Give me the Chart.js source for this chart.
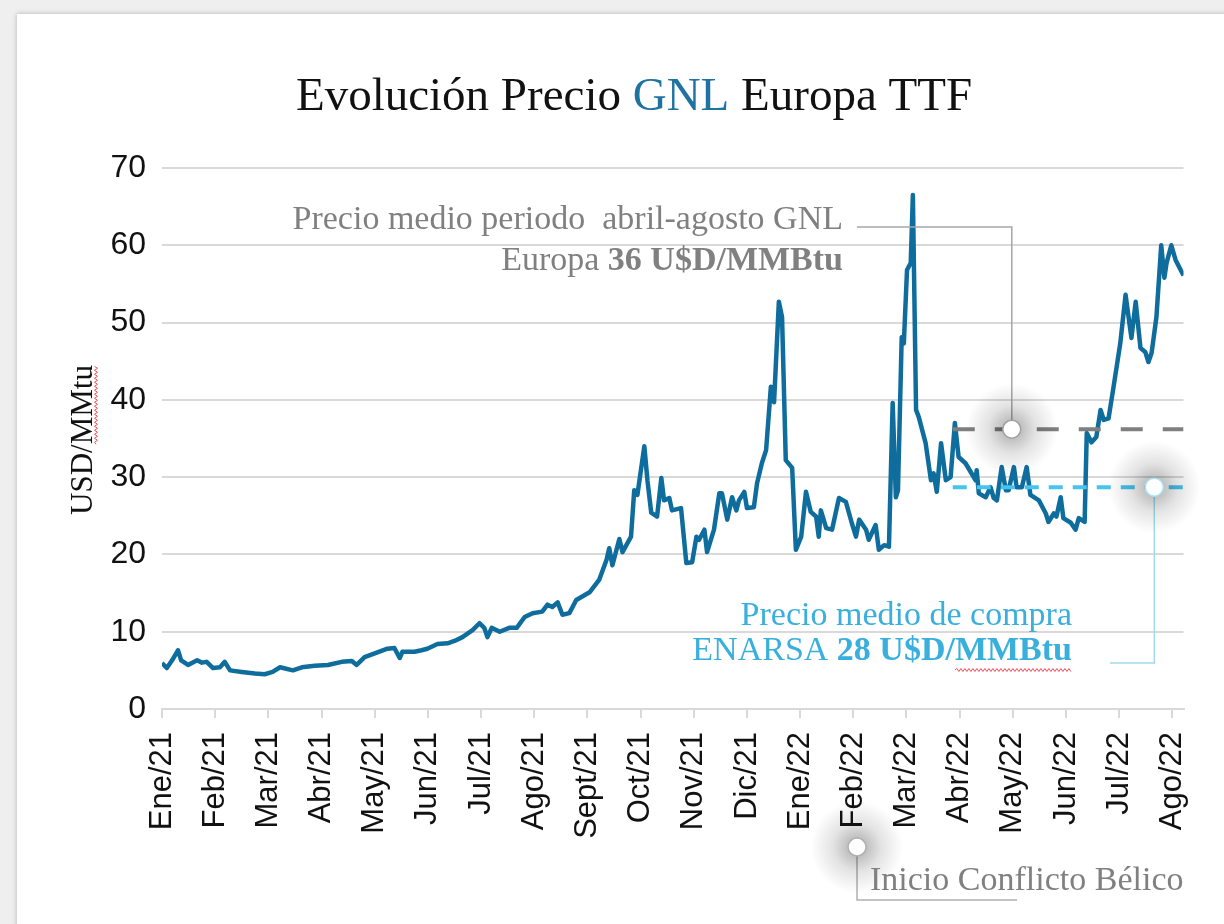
<!DOCTYPE html>
<html lang="es">
<head>
<meta charset="utf-8">
<title>Evolución Precio GNL Europa TTF</title>
<script src="https://cdn.jsdelivr.net/npm/chart.js@4.4.1/dist/chart.umd.min.js"></script>
<style>
  html, body { margin: 0; padding: 0; }
  body { width: 1224px; height: 924px; background: #efefef; position: relative; overflow: hidden; }
  .tarjeta { position: absolute; left: 17px; top: 14px; right: -10px; bottom: -10px; background: #fff; box-shadow: 0 0 5px rgba(0,0,0,0.25); }
  .lienzo { position: absolute; left: 0; top: 0; width: 1224px; height: 924px; }
</style>
</head>
<body>
<div class="tarjeta"></div>
<div class="lienzo"><canvas id="graficoGNL"></canvas></div>
<script>
// Etiquetas del eje X (posición 0 = Ene/21)
const meses = ['Ene/21', 'Feb/21', 'Mar/21', 'Abr/21', 'May/21', 'Jun/21', 'Jul/21', 'Ago/21', 'Sept/21', 'Oct/21',
               'Nov/21', 'Dic/21', 'Ene/22', 'Feb/22', 'Mar/22', 'Abr/22', 'May/22', 'Jun/22', 'Jul/22', 'Ago/22'];

// Posición de cada cotización, en meses desde Ene/21
const mesPos = [0.00, 0.09, 0.19, 0.30, 0.36, 0.49, 0.66, 0.75, 0.84, 0.96, 1.09, 1.18, 1.28, 1.50, 1.75, 1.93,
  2.08, 2.22, 2.46, 2.63, 2.87, 3.12, 3.38, 3.57, 3.66, 3.81, 4.00, 4.24, 4.37, 4.47, 4.52, 4.75, 4.88, 4.99,
  5.18, 5.37, 5.50, 5.65, 5.84, 5.97, 6.06, 6.12, 6.20, 6.35, 6.53, 6.67, 6.82, 6.97, 7.15, 7.25, 7.34, 7.44,
  7.53, 7.66, 7.79, 8.04, 8.22, 8.36, 8.41, 8.47, 8.60, 8.66, 8.82, 8.88, 8.94, 9.07, 9.13, 9.20, 9.31, 9.39,
  9.44, 9.54, 9.59, 9.76, 9.86, 9.97, 10.05, 10.10, 10.20, 10.25, 10.38, 10.48, 10.53, 10.63, 10.72, 10.80,
  10.85, 10.95, 11.00, 11.13, 11.19, 11.28, 11.36, 11.45, 11.51, 11.60, 11.66, 11.73, 11.85, 11.92, 12.02,
  12.11, 12.20, 12.30, 12.35, 12.39, 12.49, 12.60, 12.73, 12.86, 12.97, 13.05, 13.11, 13.24, 13.29, 13.42,
  13.48, 13.58, 13.67, 13.74, 13.80, 13.84, 13.91, 13.95, 14.01, 14.08, 14.12, 14.18, 14.23, 14.36, 14.46,
  14.51, 14.57, 14.65, 14.74, 14.83, 14.91, 14.98, 15.11, 15.30, 15.32, 15.36, 15.49, 15.58, 15.64, 15.70,
  15.79, 15.87, 15.92, 16.02, 16.07, 16.17, 16.26, 16.33, 16.49, 16.62, 16.67, 16.77, 16.82, 16.90, 16.95,
  17.09, 17.18, 17.24, 17.35, 17.39, 17.48, 17.57, 17.65, 17.71, 17.80, 17.89, 18.02, 18.12, 18.21, 18.23,
  18.31, 18.40, 18.49, 18.55, 18.61, 18.70, 18.79, 18.85, 18.89, 18.98, 19.06, 19.21];

// Precio GNL Europa TTF (USD/MMBtu)
const precioTTF = [5.95, 5.3, 6.3, 7.6, 6.3, 5.7, 6.3, 6.0, 6.1, 5.3, 5.4, 6.1, 5.0, 4.8, 4.6, 4.5,
  4.8, 5.4, 5.0, 5.4, 5.6, 5.7, 6.1, 6.2, 5.7, 6.7, 7.2, 7.8, 7.9, 6.6, 7.4, 7.4, 7.6, 7.8,
  8.4, 8.5, 8.8, 9.3, 10.2, 11.1, 10.5, 9.3, 10.5, 10.0, 10.5, 10.5, 11.9, 12.4, 12.6, 13.5, 13.2, 13.8,
  12.2, 12.4, 14.1, 15.1, 16.7, 19.3, 20.8, 18.6, 22.0, 20.3, 22.3, 28.3, 27.7, 34.0, 29.5, 25.4, 24.9, 29.9,
  27.0, 27.3, 25.7, 26.0, 18.9, 19.0, 22.3, 21.9, 23.2, 20.3, 23.2, 27.9, 27.9, 24.5, 27.4, 25.7,
  27.0, 28.1, 26.0, 26.1, 29.2, 31.8, 33.5, 41.7, 39.7, 52.7, 50.7, 32.2, 31.2, 20.6, 22.3,
  28.1, 25.5, 24.9, 22.3, 25.7, 23.4, 23.2, 27.3, 26.8, 24.1, 22.3, 24.5, 23.2, 21.9, 23.8,
  20.6, 21.2, 21.0, 39.6, 27.4, 28.3, 48.1, 47.3, 56.8, 57.7, 66.5, 38.7, 37.8, 34.4, 29.6,
  30.5, 28.1, 34.4, 29.6, 30.0, 37.0, 32.6, 31.8, 29.6, 30.9, 27.9, 27.4, 28.7, 27.3, 27.0,
  31.3, 28.3, 28.3, 31.3, 28.7, 28.7, 31.3, 27.7, 27.0, 25.3, 24.2, 25.3, 24.9, 27.4, 24.7,
  24.1, 23.2, 24.7, 24.2, 35.7, 34.5, 35.2, 38.7, 37.4, 37.6, 41.5, 47.3, 53.6, 49.0, 48.0,
  52.7, 46.7, 46.2, 44.9, 46.1, 50.7, 60.0, 55.8, 57.7, 60.0, 58.1, 56.1];

// Promedios abril-agosto
const tramoPromedio = [14.87, 19.21];
const promedioEuropa = 36.2;
const promedioEnarsa = 28.7;

const SERIF = "'Liberation Serif', 'Times New Roman', serif";
const SANS = "'Liberation Sans', Arial, sans-serif";

function textoPartes(ctx, partes, x, y, alinear) {
    let total = 0;
    partes.forEach(p => { ctx.font = p.font; p.w = ctx.measureText(p.t).width; total += p.w; });
    let xi = alinear === 'right' ? x - total : (alinear === 'center' ? x - total / 2 : x);
    ctx.textAlign = 'left';
    ctx.textBaseline = 'alphabetic';
    partes.forEach(p => {
        ctx.font = p.font;
        ctx.fillStyle = p.color;
        ctx.fillText(p.t, xi, y);
        p.x0 = xi;
        xi += p.w;
    });
    return partes;
}

function ondulado(ctx, x0, x1, y) {
    ctx.save();
    ctx.strokeStyle = '#e8505b';
    ctx.lineWidth = 1;
    ctx.beginPath();
    let up = true;
    ctx.moveTo(x0, y);
    for (let xx = x0 + 2; xx <= x1; xx += 2) {
        ctx.lineTo(xx, up ? y - 1.5 : y + 1.5);
        up = !up;
    }
    ctx.stroke();
    ctx.restore();
}

// punto blanco con halo gris difuso
function circulo(ctx, cx, cy, borde) {
    ctx.save();
    const halo = ctx.createRadialGradient(cx, cy, 6, cx, cy, 46);
    halo.addColorStop(0, 'rgba(0,0,0,0.28)');
    halo.addColorStop(0.45, 'rgba(0,0,0,0.11)');
    halo.addColorStop(1, 'rgba(0,0,0,0)');
    ctx.fillStyle = halo;
    ctx.beginPath();
    ctx.arc(cx, cy, 46, 0, Math.PI * 2);
    ctx.fill();
    ctx.fillStyle = '#fff';
    ctx.beginPath();
    ctx.arc(cx, cy, 9, 0, Math.PI * 2);
    ctx.fill();
    ctx.strokeStyle = borde;
    ctx.lineWidth = 1.5;
    ctx.stroke();
    ctx.restore();
}

function linea(ctx, pts, color) {
    ctx.save();
    ctx.strokeStyle = color;
    ctx.lineWidth = 1.5;
    ctx.beginPath();
    ctx.moveTo(pts[0][0], pts[0][1]);
    for (let i = 1; i < pts.length; i++) ctx.lineTo(pts[i][0], pts[i][1]);
    ctx.stroke();
    ctx.restore();
}

const anotaciones = {
    id: 'anotaciones',
    afterDraw(chart) {
        const { ctx, scales: { x, y } } = chart;
        ctx.save();

        // Título
        const fT = '47px ' + SERIF;
        textoPartes(ctx, [
            { t: 'Evolución Precio ', font: fT, color: '#111' },
            { t: 'GNL', font: fT, color: '#1f73a0' },
            { t: ' Europa TTF', font: fT, color: '#111' }
        ], 634, 110, 'center');

        // Título eje Y
        ctx.save();
        ctx.translate(92, 440);
        ctx.rotate(-Math.PI / 2);
        ctx.font = '31px ' + SERIF;
        ctx.fillStyle = '#111';
        ctx.textAlign = 'center';
        ctx.textBaseline = 'alphabetic';
        const tituloY = 'USD/MMtu';
        ctx.fillText(tituloY, 0, 0);
        const wTot = ctx.measureText(tituloY).width;
        const wIni = ctx.measureText('USD/').width;
        ondulado(ctx, -wTot / 2 + wIni, wTot / 2, 4);
        ctx.restore();

        const fA = '34px ' + SERIF;
        const fB = 'bold 34px ' + SERIF;
        const gris = '#808080';
        const cian = '#38afdd';

        // Anotación Europa
        textoPartes(ctx, [{ t: 'Precio medio periodo  abril-agosto GNL', font: fA, color: gris }], 843, 229, 'right');
        textoPartes(ctx, [
            { t: 'Europa ', font: fA, color: gris },
            { t: '36 U$D/MMBtu', font: fB, color: gris }
        ], 843, 270, 'right');
        const cxE = x.getPixelForValue(15.98), cyE = y.getPixelForValue(promedioEuropa);
        linea(ctx, [[857, 227], [cxE, 227], [cxE, cyE - 9]], '#a6a6a6');
        circulo(ctx, cxE, cyE, '#a0a0a0');

        // Anotación ENARSA
        textoPartes(ctx, [{ t: 'Precio medio de compra', font: fA, color: cian }], 1072, 625, 'right');
        const p2 = textoPartes(ctx, [
            { t: 'ENARSA ', font: fA, color: cian },
            { t: '28 U$D/', font: fB, color: cian },
            { t: 'MMBtu', font: fB, color: cian }
        ], 1072, 660, 'right');
        ondulado(ctx, p2[2].x0, p2[2].x0 + p2[2].w, 670);
        const cxN = x.getPixelForValue(18.66), cyN = y.getPixelForValue(promedioEnarsa);
        linea(ctx, [[cxN, cyN + 9], [cxN, 663], [1110, 663]], '#9fdcf0');
        circulo(ctx, cxN, cyN, '#a8e3f5');

        // Inicio conflicto
        const cxC = x.getPixelForValue(13.07);
        linea(ctx, [[cxC, 856], [cxC, 900], [1017, 900]], '#b0b0b0');
        circulo(ctx, cxC, 847, '#b0b0b0');
        textoPartes(ctx, [{ t: 'Inicio Conflicto Bélico', font: fA, color: gris }], 870, 890, 'left');

        ctx.restore();
    }
};

const ctx = document.getElementById('graficoGNL').getContext('2d');
const grafico = new Chart(ctx, {
    type: 'line',
    data: {
        datasets: [{
            label: 'TTF',
            data: mesPos.map((m, i) => ({ x: m, y: precioTTF[i] })),
            borderColor: '#0f6d9e',
            borderWidth: 4.5,
            pointRadius: 0,
            tension: 0,
            borderJoinStyle: 'round',
            order: 3
        }, {
            label: 'Promedio Europa',
            data: tramoPromedio.map(m => ({ x: m, y: promedioEuropa })),
            borderColor: '#7f7f7f',
            borderWidth: 4,
            borderDash: [22, 20],
            pointRadius: 0,
            order: 1
        }, {
            label: 'Promedio ENARSA',
            data: tramoPromedio.map(m => ({ x: m, y: promedioEnarsa })),
            borderColor: '#46c3ee',
            borderWidth: 4,
            borderDash: [14, 10],
            pointRadius: 0,
            order: 2
        }]
    },
    options: {
        responsive: true,
        maintainAspectRatio: false,
        animation: false,
        layout: { padding: { top: 168, right: 39, bottom: 0, left: 0 } },
        plugins: {
            legend: { display: false },
            tooltip: { enabled: false }
        },
        scales: {
            x: {
                type: 'linear',
                min: 0,
                max: 19.21,
                afterFit: s => { s.height = 215; },
                grid: { drawOnChartArea: false, drawTicks: true, tickLength: 9, color: '#d9d9d9', lineWidth: 2 },
                border: { display: true, color: '#d9d9d9', width: 2 },
                ticks: {
                    stepSize: 1,
                    includeBounds: false,
                    autoSkip: false,
                    maxRotation: 90,
                    minRotation: 90,
                    padding: 14,
                    color: '#111',
                    font: { family: SANS, size: 31 },
                    callback: v => Number.isInteger(v) ? meses[v] : ''
                }
            },
            y: {
                min: 0,
                max: 70,
                afterFit: s => { s.width = 162; },
                grid: { color: '#d9d9d9', lineWidth: 2, drawTicks: false },
                border: { display: false },
                ticks: {
                    stepSize: 10,
                    padding: 16,
                    color: '#111',
                    font: { family: SANS, size: 32 }
                }
            }
        }
    },
    plugins: [anotaciones]
});
</script>
</body>
</html>
